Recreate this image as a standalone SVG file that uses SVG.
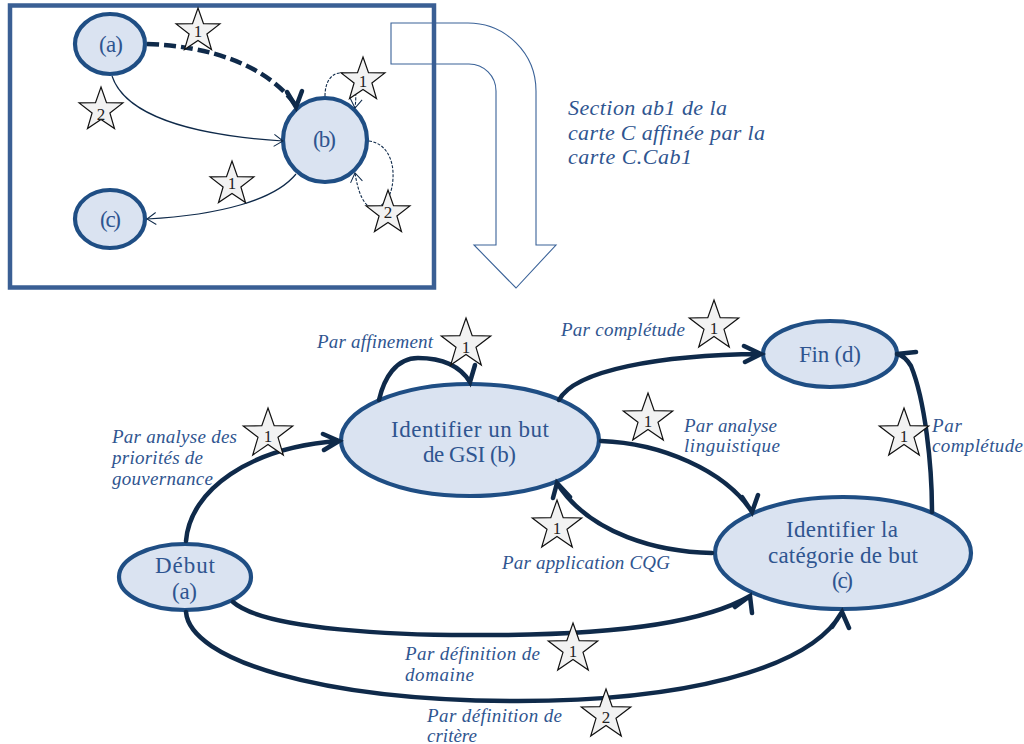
<svg xmlns="http://www.w3.org/2000/svg" width="1024" height="744" viewBox="0 0 1024 744">
<style>
text{font-family:"Liberation Serif","DejaVu Serif",serif;fill:#2f5590}
.n{font-size:23px}
.l{font-size:19px;font-style:italic}
.s{font-size:22px;font-style:italic}
.d{font-size:17px;fill:#222;text-anchor:middle}
.e{fill:#dae3f1;stroke:#1f4e84;stroke-width:4.200}
.st{fill:#f2f2f2;stroke:#111;stroke-width:1.2}
.c{fill:none;stroke:#0f2a4a}
.t{stroke-width:4.500;stroke-linecap:round;stroke-linejoin:miter}
.f{stroke-width:1.2;marker-end:url(#m)}
.g{stroke-width:1.1;stroke-dasharray:3 1.500;marker-end:url(#m)}
</style>
<defs>
<marker id="m" markerUnits="userSpaceOnUse" markerWidth="14" markerHeight="14" refX="11" refY="7" orient="auto"><path d="M2,1 L11,7 L2,13" fill="none" stroke="#0f2a4a" stroke-width="1"/></marker>
<polygon id="star" points="0,-23 5.500,-7.300 21.900,-7.100 8.900,2.900 13.500,18.600 0,9.400 -13.500,18.600 -8.900,2.900 -21.900,-7.100 -5.500,-7.300"/>
<polygon id="bstar" points="0,-26 6.200,-8.300 24.700,-8 10,3.300 15.300,21 0,10.600 -15.300,21 -10,3.300 -24.700,-8 -6.200,-8.300"/>
</defs>
<path id="big-arrow" d="M391,23 H468 A68,68 0 0 1 536,91 V245 H556 L516,288 L474,245 H496 V91 A27,27 0 0 0 469,64 H391 Z" fill="none" stroke="#3a6298" stroke-width="1.100"/>
<rect id="frame" x="10" y="5.500" width="424" height="282" fill="none" stroke="#3a5f94" stroke-width="4.500"/>
<g id="top-a"><ellipse class="e" cx="110" cy="44" rx="35" ry="30"/><text class="n" x="99" y="52" textLength="24">(a)</text></g>
<g id="top-b"><ellipse class="e" cx="325" cy="140" rx="42" ry="42"/><text class="n" x="313" y="147" textLength="23">(b)</text></g>
<g id="top-c"><ellipse class="e" cx="110" cy="219" rx="35" ry="29"/><text class="n" x="100" y="227" textLength="21">(c)</text></g>
<g id="node-b"><ellipse class="e" cx="470" cy="440" rx="129" ry="56"/><text class="n" x="391" y="437" textLength="158">Identifier un but</text><text class="n" x="423" y="462" textLength="93">de GSI (b)</text></g>
<g id="node-d"><ellipse class="e" cx="830" cy="354" rx="67" ry="33"/><text class="n" x="799" y="362" textLength="62">Fin (d)</text></g>
<g id="node-c"><ellipse class="e" cx="843" cy="553" rx="128" ry="56"/><text class="n" x="786" y="537" textLength="112">Identifier la</text><text class="n" x="768" y="563" textLength="150">catégorie de but</text><text class="n" x="832" y="588" textLength="21">(c)</text></g>
<g id="node-a"><ellipse class="e" cx="185" cy="577" rx="66" ry="33"/><text class="n" x="155" y="573" textLength="60">Début</text><text class="n" x="172" y="599" textLength="25">(a)</text></g>
<g id="connectors">
<path class="c" d="M147,44 C210,46 265,65 294,103" stroke-width="4.500" stroke-dasharray="12 5"/>
<path class="c t" d="M287,92 L296,107 L302,91"/>
<path class="c f" d="M112,76 C125,115 190,135 283,141"/>
<path class="c f" d="M296,174 C275,200 220,215 147,219"/>
<path class="c g" d="M325,96 C325,80 333,73 340,73 C352,73 358,85 355,108"/>
<path class="c g" d="M369,141 C385,143 394,158 393,178 C392,205 375,212 367,205 C360,198 357,185 355,173"/>
<path class="c t" d="M186,541 C190,490 250,447 339,441 M323,434 L339,441 L324,450"/>
<path class="c t" d="M379,400 C384,378 396,358 418,358 C442,358 460,366 470,382 L475,365"/>
<path class="c t" d="M559,400 C575,370 660,355 761,354 M744,346 L761,354 L745,362"/>
<path class="c t" d="M601,441 C660,443 725,470 752,512 M742,497 L752,512 L758,495"/>
<path class="c t" d="M712,553 C660,552 590,535 557,483 M553,498 L557,483 L570,497"/>
<path class="c t" d="M932,512 C932,465 925,400 911,366 C906,358 902,355 897,354 M916,352 L897,354"/>
<path class="c t" d="M233,602 C265,630 400,636 490,635 C600,635 700,625 750,596 M735,607 L750,596 L752,613"/>
<path class="c t" d="M186,612 C190,660 320,700 510,701 C680,702 810,670 842,612 M832,627 L842,612 L849,628"/>
</g>
<g id="stars">
<g transform="translate(198,31)"><use href="#star" class="st"/><text class="d" y="6">1</text></g>
<g transform="translate(101,110)"><use href="#star" class="st"/><text class="d" y="10">2</text></g>
<g transform="translate(232,184)"><use href="#star" class="st"/><text class="d" y="5">1</text></g>
<g transform="translate(363,80)"><use href="#star" class="st"/><text class="d" y="7">1</text></g>
<g transform="translate(388,213)"><use href="#star" class="st"/><text class="d" y="5">2</text></g>
<g transform="translate(466,344)"><use href="#bstar" class="st"/><text class="d" y="9">1</text></g>
<g transform="translate(268,434)"><use href="#bstar" class="st"/><text class="d" y="8">1</text></g>
<g transform="translate(714,326)"><use href="#bstar" class="st"/><text class="d" y="8">1</text></g>
<g transform="translate(648,419)"><use href="#bstar" class="st"/><text class="d" y="8">1</text></g>
<g transform="translate(904,434)"><use href="#bstar" class="st"/><text class="d" y="8">1</text></g>
<g transform="translate(557,526)"><use href="#bstar" class="st"/><text class="d" y="8">1</text></g>
<g transform="translate(573,649)"><use href="#bstar" class="st"/><text class="d" y="8">1</text></g>
<g transform="translate(606,715)"><use href="#bstar" class="st"/><text class="d" y="8">2</text></g>
</g>
<g id="labels">
<text class="s" x="568" y="115" textLength="159">Section ab1 de la</text>
<text class="s" x="568" y="140" textLength="197">carte C affinée par la</text>
<text class="s" x="568" y="164" textLength="124">carte C.Cab1</text>
<text class="l" x="317" y="348" textLength="116">Par affinement</text>
<text class="l" x="112" y="443" textLength="125">Par analyse des</text>
<text class="l" x="112" y="464" textLength="91">priorités de</text>
<text class="l" x="112" y="485" textLength="101">gouvernance</text>
<text class="l" x="561" y="336" textLength="124">Par complétude</text>
<text class="l" x="684" y="432" textLength="93">Par analyse</text>
<text class="l" x="684" y="452" textLength="96">linguistique</text>
<text class="l" x="932" y="432" textLength="30">Par</text>
<text class="l" x="932" y="452" textLength="91">complétude</text>
<text class="l" x="502" y="569" textLength="168">Par application CQG</text>
<text class="l" x="405" y="660" textLength="135">Par définition de</text>
<text class="l" x="405" y="681" textLength="69">domaine</text>
<text class="l" x="427" y="722" textLength="135">Par définition de</text>
<text class="l" x="427" y="742" textLength="50">critère</text>
</g>
</svg>
